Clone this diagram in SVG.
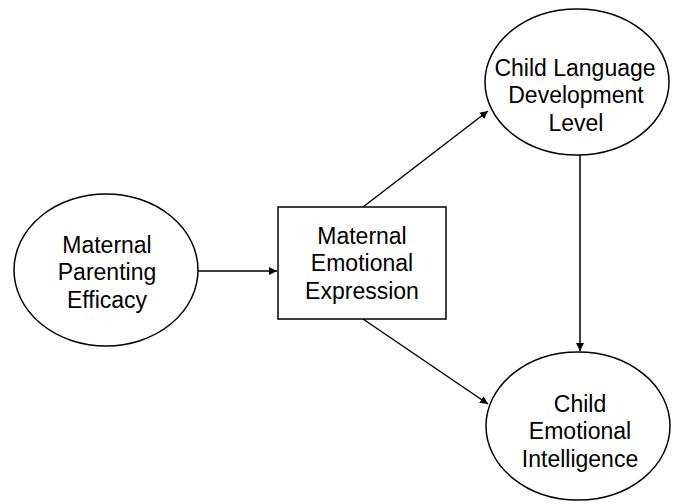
<svg xmlns="http://www.w3.org/2000/svg" width="678" height="504" viewBox="0 0 678 504">
<style>
.n{fill:#fff;stroke:#000;stroke-width:1.5}
.t{font-family:"Liberation Sans",Arial,sans-serif;font-size:23px;fill:#000;text-anchor:middle}
.c{stroke:#000;stroke-width:1.5;fill:none;marker-end:url(#a)}
</style>
<defs>
<marker id="a" viewBox="0 0 10 10" refX="10" refY="5" markerWidth="8" markerHeight="8" markerUnits="userSpaceOnUse" orient="auto">
<path d="M0,0 L10,5 L0,10 z" fill="#000"/>
</marker>
</defs>
<rect width="678" height="504" fill="#fff"/>
<g id="connectors">
<line class="c" x1="198" y1="271" x2="277" y2="271"/>
<line class="c" x1="363" y1="207" x2="488" y2="111"/>
<line class="c" x1="363" y1="319" x2="488" y2="404"/>
<line class="c" x1="580" y1="155" x2="580" y2="351"/>
</g>
<g id="mpe">
<ellipse class="n" cx="106" cy="270" rx="92" ry="76"/>
<text class="t" x="107" y="253">Maternal</text>
<text class="t" x="107" y="280">Parenting</text>
<text class="t" x="107" y="308">Efficacy</text>
</g>
<g id="mee">
<rect class="n" x="278" y="207" width="168" height="112"/>
<text class="t" x="362" y="244">Maternal</text>
<text class="t" x="362" y="271">Emotional</text>
<text class="t" x="362" y="299">Expression</text>
</g>
<g id="cldl">
<ellipse class="n" cx="577" cy="82" rx="92" ry="73"/>
<text class="t" x="575" y="76">Child Language</text>
<text class="t" x="576" y="103">Development</text>
<text class="t" x="576" y="131">Level</text>
</g>
<g id="cei">
<ellipse class="n" cx="578" cy="426" rx="92" ry="74"/>
<text class="t" x="580" y="412">Child</text>
<text class="t" x="580" y="439">Emotional</text>
<text class="t" x="580" y="467">Intelligence</text>
</g>
</svg>
